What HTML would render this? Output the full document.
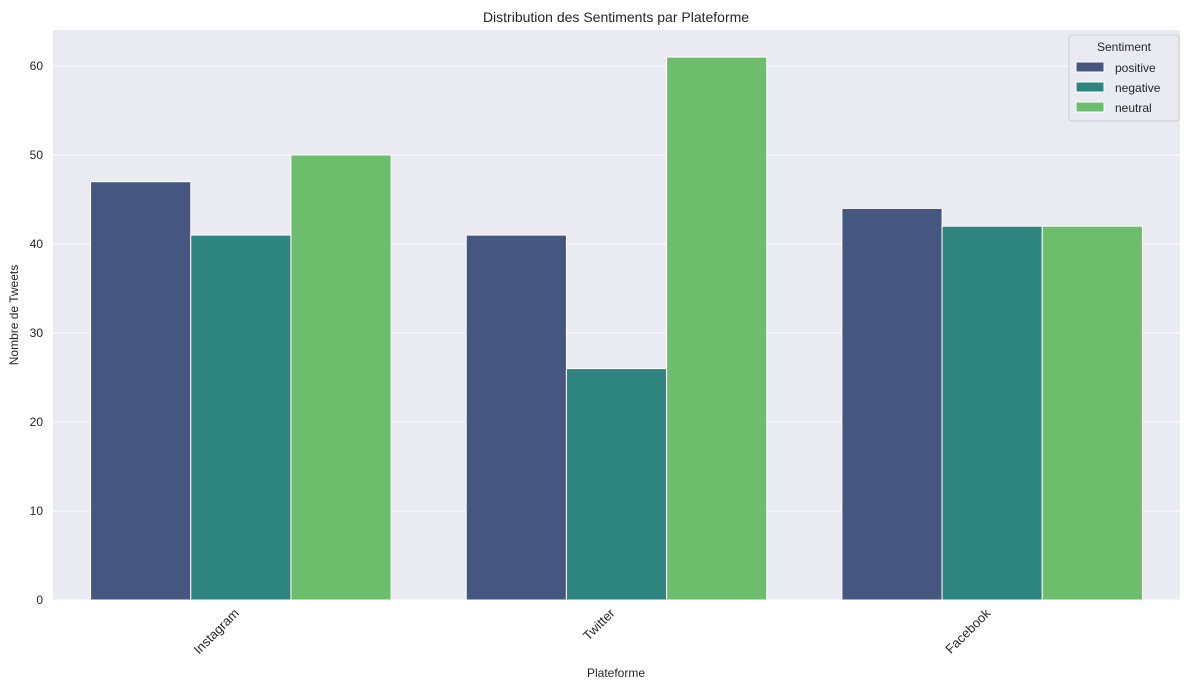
<!DOCTYPE html>
<html><head><meta charset="utf-8"><style>
body{margin:0;background:#fff;font-family:"Liberation Sans",sans-serif;}
svg text{font-family:"Liberation Sans",sans-serif;fill:#262626;}
</style></head><body>
<svg id="chart" width="1189" height="690">
<text x="616" y="22" text-anchor="middle" font-size="14">Distribution des Sentiments par Plateforme</text>
<rect x="53" y="30" width="1127" height="570" fill="#eaeaf2"/>
<g id="grid"></g><g id="bars"></g><g id="xlabels"></g><g id="ylabels"></g>
<text x="616" y="677" text-anchor="middle" font-size="12">Plateforme</text>
<text transform="translate(18,315) rotate(-90)" text-anchor="middle" font-size="12">Nombre de Tweets</text>
<g id="legend">
<rect x="1069" y="35" width="110" height="86" rx="3" fill="#eaeaf2" stroke="#cccccc" opacity="0.9"/>
<text x="1124" y="51" text-anchor="middle" font-size="12">Sentiment</text>
</g>
</svg>
<script>
const categories=["Instagram","Twitter","Facebook"];
const sentiments=["positive","negative","neutral"];
const positiveValues=[47,41,44];
const negativeValues=[41,26,42];
const neutralValues=[50,61,42];
const yTicks=[0,10,20,30,40,50,60];
const colors=["#455681","#2e847f","#6cbd6c"];
const series=[positiveValues,negativeValues,neutralValues];
const NS="http://www.w3.org/2000/svg";
const left=53,right=1180,bottom=600,pxPerUnit=8.9;
const step=(right-left)/categories.length;
const bw=step*0.8/3;
function xC(i){return left+step*(i+0.5);}
function y(v){return bottom-v*pxPerUnit;}
function mk(tag,attrs,parent){const e=document.createElementNS(NS,tag);for(const k in attrs)e.setAttribute(k,attrs[k]);document.getElementById(parent).appendChild(e);return e;}
yTicks.forEach(t=>{
 const l=mk("line",{x1:left,x2:right,y1:y(t),y2:y(t),stroke:"#fff","stroke-width":1},"grid");
 
 
 const tx=mk("text",{x:left-10,y:y(t)+4,"text-anchor":"end","font-size":"12"},"ylabels");
 tx.textContent=t;
 
 
});
categories.forEach((c,i)=>{
 series.forEach((s,j)=>{
  const x0=xC(i)-1.5*bw+j*bw;
  const r=mk("rect",{x:x0,y:y(s[i]),width:bw,height:bottom-y(s[i]),fill:colors[j],stroke:"#fff","stroke-width":1},"bars");
  
  
 });
 const tx=mk("text",{transform:`translate(${xC(i)-1},${614}) rotate(-45)`,"text-anchor":"end","font-size":"13"},"xlabels");
 tx.textContent=c;
 
 
});
sentiments.forEach((s,j)=>{
 const yy=62+j*20;
 const r=mk("rect",{x:1076,y:yy,width:28,height:10,fill:colors[j],stroke:"#fff"},"legend");
 
 
 const t=mk("text",{x:1115,y:yy+10,"font-size":"12"},"legend");
 t.textContent=s;
 
 
});
</script>
</body></html>
